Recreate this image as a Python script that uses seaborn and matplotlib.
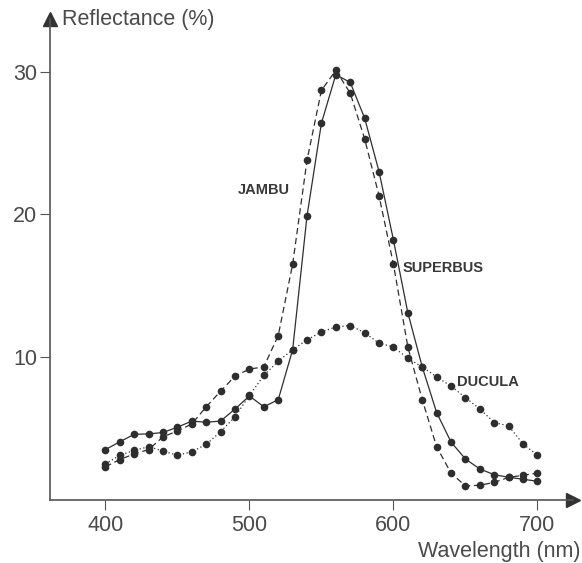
import matplotlib
matplotlib.use("Agg")
import matplotlib.pyplot as plt
import numpy as np
import seaborn as sns

# wavelengths sampled every 10 nm
wavelength = list(range(400, 701, 10))

# reflectance values (%)
jambu = [2.3, 2.8, 3.2, 3.5, 4.4, 4.8, 5.3, 6.5, 7.6, 8.65,
         9.15, 9.3, 11.5, 16.5, 23.8, 28.7, 30.1, 28.5, 25.3, 21.3,
         16.5, 10.7, 7.0, 3.7, 1.85, 0.95, 1.0, 1.2, 1.55, 1.7, 1.85]
superbus = [3.5, 4.05, 4.57, 4.6, 4.7, 5.07, 5.5, 5.42, 5.5, 6.35,
            7.26, 6.5, 7.0, 10.5, 19.9, 26.4, 29.8, 29.25, 26.75, 23.0,
            18.2, 13.1, 9.3, 6.1, 4.03, 2.84, 2.14, 1.74, 1.56, 1.42, 1.28]
ducula = [2.5, 3.1, 3.45, 3.7, 3.4, 3.1, 3.35, 3.87, 4.76, 5.8,
          7.3, 8.7, 9.7, 10.5, 11.2, 11.75, 12.1, 12.2, 11.7, 10.96,
          10.7, 9.9, 9.3, 8.6, 7.95, 7.15, 6.35, 5.4, 5.16, 3.9, 3.1]

x_ticks = [400, 500, 600, 700]
y_ticks = [10, 20, 30]

sns.set_style("ticks")
plt.rcParams['font.family'] = ['Liberation Sans', 'DejaVu Sans']

ink = '#2e2e2e'
axis_col = '#555555'
text_col = '#4a4a4a'

fig = plt.figure(figsize=(5.82, 5.63), dpi=100)
ax = fig.add_axes([50 / 582, 63.5 / 563, 523 / 582, 480.5 / 563])

# the three spectra
common = dict(marker='o', markersize=5.5, markeredgewidth=0, color=ink, linewidth=0.9)
sns.lineplot(x=wavelength, y=jambu, ax=ax, linestyle=(0, (5, 3)), **common)
sns.lineplot(x=wavelength, y=superbus, ax=ax, linestyle='-', **common)
sns.lineplot(x=wavelength, y=ducula, ax=ax, linestyle=(0, (1, 2)), **common)

ax.set_xlim(361.5, 724.7)
ax.set_ylim(0, 33.7)
ax.set_xticks(x_ticks)
ax.set_yticks(y_ticks)
ax.tick_params(axis='x', direction='out', length=7.5, width=0.8, color=axis_col,
               labelsize=15.5, labelcolor=text_col, pad=4)
ax.tick_params(axis='y', direction='out', length=7.5, width=0.8, color=axis_col,
               labelsize=15.5, labelcolor=text_col, pad=1.5)

for side in ['top', 'right']:
    ax.spines[side].set_visible(False)
for side in ['left', 'bottom']:
    ax.spines[side].set_color(axis_col)
    ax.spines[side].set_linewidth(1.2)

# arrow heads on the axes
ax.plot(1, 0, '>', color='#333333', markersize=10, transform=ax.transAxes, clip_on=False)
ax.plot(0, 1, '^', color='#333333', markersize=10, transform=ax.transAxes, clip_on=False)

# series labels
lab = dict(fontsize=10.5, fontweight='bold', color='#383838', va='center', ha='left')
ax.text(492, 21.7, 'JAMBU', **lab)
ax.text(606.6, 16.25, 'SUPERBUS', **lab)
ax.text(644.1, 8.25, 'DUCULA', **lab)

ax.set_xlabel('')
ax.set_ylabel('')
fig.text(62 / 582, 1 - 20 / 563, 'Reflectance (%)', fontsize=15.5, color=text_col, va='center', ha='left')
fig.text(580 / 582, 1 - 551 / 563, 'Wavelength (nm)', fontsize=15.5, color=text_col, va='center', ha='right')

fig.savefig('out.png', dpi=100, facecolor='white')
